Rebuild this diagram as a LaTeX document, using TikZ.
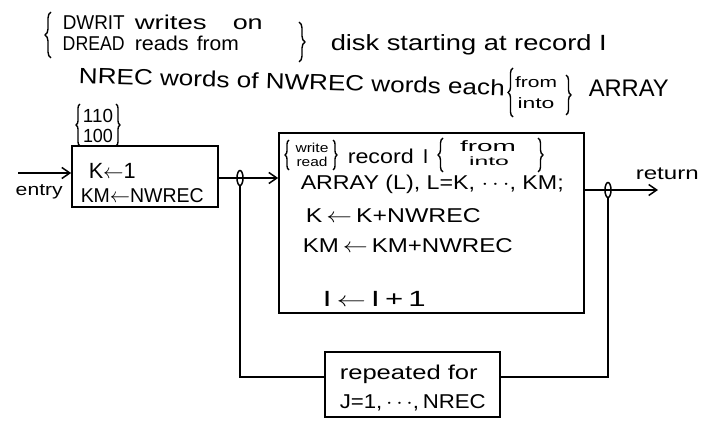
\documentclass[tikz,border=0pt]{standalone}
\usepackage{fontspec}
\usepackage{graphicx}
\setmainfont{Liberation Sans}
\usetikzlibrary{arrows.meta,calc,shapes.geometric,decorations.pathreplacing}
\newcommand{\fs}[1]{\fontsize{#1}{#1}\selectfont}
\newcommand{\hwid}[2]{\resizebox{#1}{\height}{#2}}
\newcommand{\lar}{\,$\leftarrow$\,}
\begin{document}
\begin{tikzpicture}[x=1pt,y=-1pt,
  line width=1.5pt,
  boxstyle/.style={draw,line width=1.7pt,inner sep=0pt},
  txt/.style={anchor=base west,inner sep=0pt},
  ctxt/.style={anchor=center,inner sep=0pt},
  hbrace/.style={decorate,decoration={brace,amplitude=#1},line width=1.4pt},
  flow/.style={-{Straight Barb[length=8pt,width=11pt,line width=1.5pt]}},
  junc/.style={draw,ellipse,minimum width=6pt,minimum height=15pt,inner sep=0pt,line width=1.5pt}
]
\useasboundingbox (0,0) rectangle (705,422);
% boxes
\node[boxstyle,minimum width=146pt,minimum height=61pt] (box1) at (145,176.5) {};
\node[boxstyle,minimum width=305pt,minimum height=180pt] (box2) at (431.5,223) {};
\node[boxstyle,minimum width=175pt,minimum height=65pt] (box3) at (412.5,384.5) {};
% ---- header line 1
\draw[hbrace=6pt] (51,58) -- (51,12);
\node[txt] (dwrit) at (62,30) {\fs{20}\hwid{62pt}{DWRIT}};
\node[txt] (writes) at (134,30) {\fs{20}\hwid{72pt}{writes}};
\node[txt] (on) at (232,30) {\fs{20}\hwid{30pt}{on}};
\node[txt] (dread) at (62,51) {\fs{20}\hwid{62pt}{DREAD}};
\node[txt] (reads) at (134,51) {\fs{20}\hwid{54pt}{reads}};
\node[txt] (from1) at (196,51) {\fs{20}\hwid{42pt}{from}};
\draw[hbrace=6pt] (299,22) -- (299,62);
\node[txt] (disk) at (330,51) {\fs{22}\hwid{276pt}{disk starting at record I}};
% ---- header line 2
\node[txt,rotate=-1.7] (nrec) at (78,83) {\fs{22}\hwid{426pt}{NREC words of NWREC words each}};
\draw[hbrace=5pt] (513,117) -- (513,68);
\node[ctxt] (from2) at (536,82) {\fs{15}\hwid{42pt}{from}};
\node[ctxt] (into2) at (536,103) {\fs{15}\hwid{37pt}{into}};
\draw[hbrace=5pt] (566,75) -- (566,115);
\node[txt] (array) at (588,97) {\fs{24}\hwid{80pt}{ARRAY}};
% ---- code numbers
\draw[hbrace=4pt] (80,146) -- (80,104);
\node[ctxt] (c110) at (98,116) {\fs{19}\hwid{30pt}{110}};
\node[ctxt] (c100) at (98,136) {\fs{19}\hwid{30pt}{100}};
\draw[hbrace=4pt] (116,104) -- (116,146);
% ---- box1 text
\node[txt] (b1a) at (88,179) {\fs{22}\hwid{47pt}{K$\leftarrow$1}};
\node[txt] (b1b) at (80,203) {\fs{20}\hwid{123pt}{KM$\leftarrow$NWREC}};
% ---- box2 text
\draw[hbrace=4pt] (289,170) -- (289,140);
\node[ctxt] (write) at (312,148) {\fs{13}\hwid{33pt}{write}};
\node[ctxt] (read) at (312,162) {\fs{13}\hwid{31pt}{read}};
\draw[hbrace=4pt] (333,140) -- (333,170);
\node[txt] (record) at (347,164) {\fs{20}\hwid{66pt}{record}};
\node[txt] (recI) at (422,164) {\fs{20}I};
\draw[hbrace=5pt] (443,172) -- (443,138);
\node[ctxt] (from3) at (488,146) {\fs{15}\hwid{56pt}{from}};
\node[ctxt] (into3) at (489,161) {\fs{12}\hwid{40pt}{into}};
\draw[hbrace=5pt] (538,138) -- (538,172);
\node[txt] (b2b) at (300,190) {\fs{20}\hwid{263pt}{ARRAY (L), L=K, $\cdots$, KM;}};
\node[txt] (b2c) at (305,223) {\fs{20}\hwid{175pt}{K\lar K+NWREC}};
\node[txt] (b2d) at (302,253) {\fs{20}\hwid{210pt}{KM\lar KM+NWREC}};
\node[txt] (b2e) at (322,307) {\fs{22}\hwid{103pt}{I\,$\leftarrow$\,I\,+\,1}};
% ---- box3 text
\node[txt] (b3a) at (339,380) {\fs{20}\hwid{138pt}{repeated for}};
\node[txt] (b3b) at (339,408) {\fs{20}\hwid{146pt}{J=1,\,$\cdots$,\,NREC}};
% ---- labels
\node[txt] (entry) at (15,196) {\fs{17}\hwid{47pt}{entry}};
\node[txt] (ret) at (635,180) {\fs{18}\hwid{63pt}{return}};
% ---- coordinates
\coordinate (start) at (18,173);
\coordinate (j1) at (240,178);
\coordinate (j2) at (608,190);
\coordinate (end) at (658,190);
\coordinate (b3r) at ($(box3.east)+(0,-7.5)$);
\coordinate (b3l) at ($(box3.west)+(0,-7.5)$);
% ---- connectors
\draw[flow] (start) -- (box1.west |- start);
\draw (box1.east |- j1) -- (j1);
\draw[flow] (j1) -- (box2.west |- j1);
\draw (box2.east |- j2) -- (j2);
\draw[flow] (j2) -- (end);
\draw (j2) -- (j2 |- b3r) -- (b3r);
\draw (b3l) -- (j1 |- b3l) -- (j1);
\node[junc,fill=white] (jc1) at (j1) {};
\node[junc,fill=white] (jc2) at (j2) {};
\draw (jc1.west) -- (jc1.east);
\draw (jc2.west) -- (jc2.east);
\end{tikzpicture}
\end{document}
